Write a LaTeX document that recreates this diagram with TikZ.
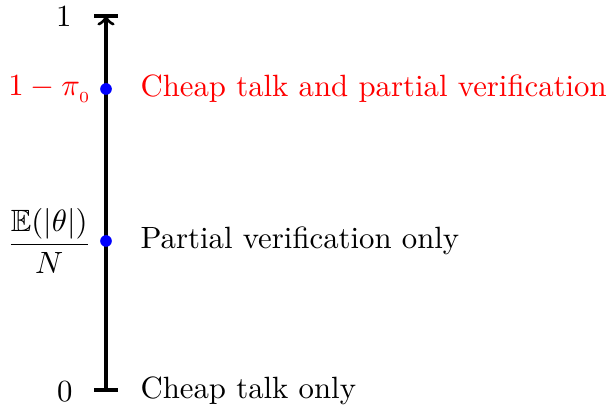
\documentclass[tikz,border=0pt]{standalone}
\usepackage{amsmath,amssymb}
\begin{document}
\begin{tikzpicture}[x=0.325pt,y=-0.325pt,
  axisline/.style={line width=1.05pt},
  dotmark/.style={circle,fill=blue,inner sep=0pt,minimum size=3.8pt},
  rlabel/.style={anchor=west,inner sep=0pt},
  llabel/.style={anchor=east,inner sep=0pt}]
\useasboundingbox (0,0) rectangle (611,411);
\coordinate (top) at (106,16);
\coordinate (bot) at (106,390);
\coordinate (tl) at (94,16);
\coordinate (tr) at (118,16);
\coordinate (bl) at (94,390);
\coordinate (br) at (118,390);
\draw[axisline,->] (bot) -- (top);
\draw[axisline] (tl) -- (tr);
\draw[axisline] (bl) -- (br);
\node[dotmark] (d1) at (106,89) {};
\node[dotmark] (d2) at (106,241) {};
\node[llabel] (one) at (72,17) {$1$};
\node[llabel] (zero) at (73,392) {$0$};
\node[llabel,text=red] (pi) at (93,89) {$1-\pi_{_0}$};
\node[llabel] (frac) at (92,241) {$\dfrac{\mathbb{E}(|\theta|)}{N}$};
\node[rlabel,text=red] (t1) at (140,89) {Cheap talk and partial verification};
\node[rlabel] (t2) at (140,241) {Partial verification only};
\node[rlabel] (t3) at (140,391) {Cheap talk only};
\end{tikzpicture}
\end{document}
